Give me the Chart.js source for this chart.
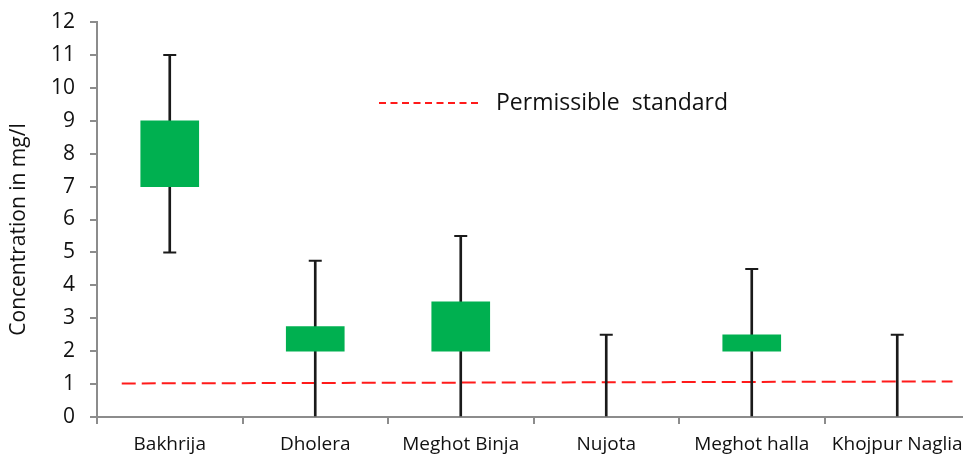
<!DOCTYPE html>
<html>
<head>
<meta charset="utf-8">
<script src="https://cdn.jsdelivr.net/npm/chart.js@4/dist/chart.umd.min.js"></script>
<style>
  html, body { margin: 0; padding: 0; background: #fff; overflow: hidden; width: 963px; height: 455px; }
  #wrap { position: absolute; left: 0; top: 0; width: 980px; height: 470px; }
</style>
</head>
<body>
<div id="wrap"><canvas id="c" width="980" height="470"></canvas></div>
<script>
// Sites sampled
const categories = ['Bakhrija', 'Dholera', 'Meghot Binja', 'Nujota', 'Meghot halla', 'Khojpur Naglia'];
// Whisker range (mg/l)
const whiskerMin = [5, 0, 0, 0, 0, 0];
const whiskerMax = [11, 4.75, 5.5, 2.5, 4.5, 2.5];
// Box range, lower and upper quartile (mg/l); null where no box is drawn
const boxLow  = [7, 2, 2, null, 2, null];
const boxHigh = [9, 2.75, 3.5, null, 2.5, null];
// Permissible standard line: start and end points (category position, mg/l)
const standardX = [-0.33, 5.38];
const standardY = [1.02, 1.08];
const yTicks = [0, 12, 1]; // min, max, step

const FONT = '"Open Sans", "Noto Sans", sans-serif';
const AXIS_GREY = '#8c8c8c';
const TEXT = '#111111';

const boxData = categories.map((_, i) => boxLow[i] == null ? null : [boxLow[i], boxHigh[i]]);
const whiskerData = categories.map((_, i) => [whiskerMin[i], whiskerMax[i]]);
const lowCaps = whiskerMin.map(v => v > yTicks[0] ? v : null);

// Legend entry and rotated axis title
const decorations = {
  id: 'decorations',
  afterDraw(chart) {
    const ctx = chart.ctx;
    const a = chart.chartArea;
    ctx.save();
    // legend
    ctx.strokeStyle = '#ff1a1a';
    ctx.lineWidth = 2;
    ctx.setLineDash([7, 4.5]);
    ctx.beginPath();
    ctx.moveTo(379, 103);
    ctx.lineTo(478, 103);
    ctx.stroke();
    ctx.setLineDash([]);
    ctx.fillStyle = TEXT;
    ctx.font = '23px ' + FONT;
    ctx.textBaseline = 'middle';
    ctx.textAlign = 'left';
    ctx.fillText('Permissible  standard', 496, 103);
    // y axis title
    ctx.translate(19, (a.top + a.bottom) / 2 + 10);
    ctx.rotate(-Math.PI / 2);
    ctx.textAlign = 'center';
    ctx.font = '21px ' + FONT;
    ctx.fillText('Concentration in mg/l', 0, 0);
    ctx.restore();
  }
};

new Chart(document.getElementById('c'), {
  type: 'bar',
  data: {
    labels: categories,
    datasets: [
      {
        type: 'line',
        label: 'Permissible standard',
        xAxisID: 'xl',
        data: standardX.map((x, i) => ({ x, y: standardY[i] })),
        borderColor: '#ff1a1a',
        borderWidth: 2,
        borderDash: [14, 6],
        pointRadius: 0,
        fill: false,
        order: 4
      },
      {
        label: 'whisker',
        data: whiskerData,
        backgroundColor: '#1a1a1a',
        barThickness: 2,
        grouped: false,
        order: 3
      },
      {
        type: 'line',
        label: 'cap high',
        data: whiskerMax,
        showLine: false,
        pointStyle: 'line',
        pointRadius: 6.5,
        pointBorderWidth: 2,
        pointBorderColor: '#1a1a1a',
        borderColor: '#1a1a1a',
        order: 2
      },
      {
        type: 'line',
        label: 'cap low',
        data: lowCaps,
        showLine: false,
        pointStyle: 'line',
        pointRadius: 6.5,
        pointBorderWidth: 2,
        pointBorderColor: '#1a1a1a',
        borderColor: '#1a1a1a',
        order: 2
      },
      {
        label: 'box',
        data: boxData,
        backgroundColor: '#00b050',
        borderWidth: 0,
        barThickness: 58,
        grouped: false,
        order: 0
      }
    ]
  },
  options: {
    responsive: false,
    animation: false,
    events: [],
    layout: { padding: { top: 22, right: 10, left: 0, bottom: 0 } },
    plugins: { legend: { display: false }, tooltip: { enabled: false } },
    scales: {
      x: {
        type: 'category',
        offset: true,
        afterFit(s) { s.height = 53; s.paddingLeft = 0; s.paddingRight = 0; },
        grid: { offset: true, drawOnChartArea: false, drawTicks: true, tickLength: 7, color: AXIS_GREY, lineWidth: 2 },
        border: { display: true, color: AXIS_GREY, width: 2 },
        ticks: { color: TEXT, font: { family: FONT, size: 19 }, padding: 9, maxRotation: 0, autoSkip: false }
      },
      xl: {
        type: 'linear',
        display: false,
        offset: false,
        grid: { offset: false },
        min: -0.5,
        max: categories.length - 0.5
      },
      y: {
        min: yTicks[0],
        max: yTicks[1],
        afterFit(s) { s.width = 97; s.paddingTop = 0; s.paddingBottom = 0; },
        grid: { drawOnChartArea: false, drawTicks: true, tickLength: 7, color: AXIS_GREY, lineWidth: 2 },
        border: { display: true, color: AXIS_GREY, width: 2 },
        ticks: { stepSize: yTicks[2], color: TEXT, font: { family: FONT, size: 21 }, padding: 15 }
      }
    }
  },
  plugins: [decorations]
});
</script>
</body>
</html>
